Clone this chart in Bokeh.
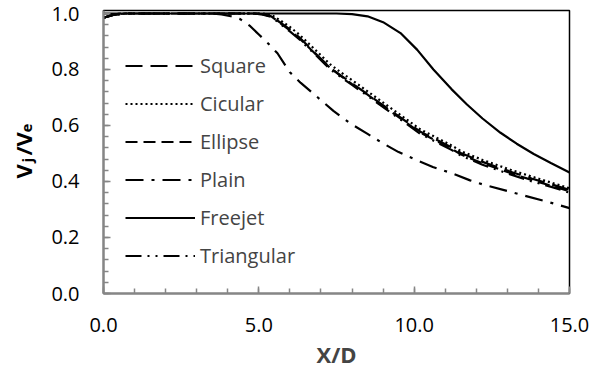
import math
from bokeh.plotting import figure
from bokeh.layouts import row
from bokeh.models import Range1d, NumeralTickFormatter, FixedTicker
from bokeh.core.properties import value
from bokeh.embed import file_html
from bokeh.resources import INLINE

# ---- data ----
x_cluster = [0, 0.3, 0.7, 1, 2, 3, 4, 4.8, 5.1, 5.4, 5.7, 6.0, 6.3, 6.8, 7.3, 7.6, 8.0,
             8.5, 8.9, 9.5, 10.2, 10.8, 11.2, 11.5, 12.2, 13.1, 13.8, 14.5, 15.0]
square = [0.985, 0.995, 1.0, 1.0, 1.0, 1.0, 1.0, 1.0, 0.998, 0.99, 0.967, 0.943, 0.915, 0.86,
          0.806, 0.782, 0.75, 0.712, 0.68, 0.633, 0.578, 0.545, 0.522, 0.502, 0.47, 0.435,
          0.41, 0.387, 0.37]
circular = [0.985, 0.995, 1.0, 1.0, 1.0, 1.0, 1.0, 1.0, 1.0, 0.995, 0.975, 0.952, 0.925, 0.872,
            0.818, 0.793, 0.762, 0.722, 0.69, 0.642, 0.586, 0.552, 0.529, 0.509, 0.477, 0.442,
            0.417, 0.393, 0.376]
ellipse = [0.985, 0.995, 1.0, 1.0, 1.0, 1.0, 1.0, 1.0, 0.998, 0.99, 0.965, 0.94, 0.912, 0.858,
           0.805, 0.78, 0.748, 0.71, 0.678, 0.63, 0.574, 0.54, 0.517, 0.497, 0.465, 0.43,
           0.405, 0.382, 0.365]
triangular = [0.985, 0.995, 1.0, 1.0, 1.0, 1.0, 1.0, 1.0, 0.997, 0.988, 0.962, 0.936, 0.908,
              0.855, 0.8, 0.776, 0.745, 0.706, 0.674, 0.626, 0.57, 0.536, 0.513, 0.493, 0.46,
              0.425, 0.4, 0.378, 0.36]

x_plain = [0, 0.5, 1, 2, 3, 3.5, 3.8, 4.1, 4.4, 4.7, 5.0, 5.3, 5.6, 6.0, 6.35, 6.9, 7.4, 7.95,
           8.5, 9.0, 9.5, 10.1, 10.6, 11.2, 11.8, 12.2, 13.3, 14.5, 15.0]
plain = [0.985, 1.0, 1.0, 1.0, 1.0, 1.0, 0.997, 0.99, 0.98, 0.957, 0.925, 0.893, 0.858, 0.79,
         0.752, 0.70, 0.652, 0.607, 0.57, 0.536, 0.505, 0.475, 0.452, 0.43, 0.404, 0.39,
         0.357, 0.321, 0.305]

x_free = [0, 2, 4, 6, 7.5, 8.0, 8.5, 9.0, 9.56, 10.1, 10.62, 11.2, 11.7, 12.2, 12.78, 13.3,
          13.85, 14.4, 15.0]
freejet = [1.0, 1.0, 1.0, 1.0, 1.0, 0.998, 0.99, 0.969, 0.93, 0.87, 0.80, 0.73, 0.675, 0.625,
           0.574, 0.535, 0.498, 0.466, 0.432]

x_ticks = [0, 5, 10, 15]
y_ticks = [0.0, 0.2, 0.4, 0.6, 0.8, 1.0]
y_label_parts = ["V", "j", "/V", "e"]

FONT = "Open Sans"
AX = "#868686"
H = 372
LW = 45
TOP = 10
BOT = 79

# ---- left strip holding the rotated y-axis title ----
lab = figure(width=LW, height=H, output_backend="svg", toolbar_location=None,
             x_range=Range1d(0, LW), y_range=Range1d(BOT, H - TOP),
             x_axis_type=None, y_axis_type=None,
             min_border_left=0, min_border_right=0, min_border_top=TOP, min_border_bottom=BOT)
lab.outline_line_color = None
lab.xgrid.visible = False
lab.ygrid.visible = False
# (anchor x, start y from top, size) for each piece
lab_pos = [(22, 178, "22px"), (26, 162, "15px"), (22, 155, "22px"), (26, 132, "15px")]
for t, (bx, sy, fs) in zip(y_label_parts, lab_pos):
    lab.text(x=[bx], y=[H - sy], text=[t], angle=math.pi / 2, text_font=value(FONT),
             text_font_style="bold", text_font_size=fs, text_baseline="alphabetic",
             text_align="left", text_color="black")

# ---- main plot ----
p = figure(width=608 - LW, height=H, output_backend="svg", toolbar_location=None,
           x_range=Range1d(0, 15), y_range=Range1d(0, 1.0107),
           min_border_left=103 - LW, min_border_right=39, min_border_top=TOP,
           min_border_bottom=BOT)
p.background_fill_color = "white"
p.border_fill_color = "white"
p.outline_line_color = "black"
p.outline_line_width = 1.5
p.xgrid.visible = False
p.ygrid.visible = False

W = 2.2
p.line(x_cluster, square, line_color="black", line_width=W, line_dash="17 8", legend_label="Square")
p.line(x_cluster, circular, line_color="black", line_width=W, line_dash="2 3", legend_label="Cicular")
p.line(x_cluster, ellipse, line_color="black", line_width=W, line_dash="12 6", legend_label="Ellipse")
p.line(x_plain, plain, line_color="black", line_width=W, line_dash="18 8 3 8", legend_label="Plain")
p.line(x_free, freejet, line_color="black", line_width=W, legend_label="Freejet")
p.line(x_cluster, triangular, line_color="black", line_width=W, line_dash="16 6 2 6 2 6",
       legend_label="Triangular")

for ax in (p.xaxis[0], p.yaxis[0]):
    ax.axis_line_color = AX
    ax.axis_line_width = 2
    ax.major_tick_line_color = AX
    ax.minor_tick_line_color = AX
    ax.major_tick_line_width = 1.5
    ax.minor_tick_line_width = 1.5
    ax.major_tick_in = 7
    ax.major_tick_out = 0
    ax.minor_tick_in = 5
    ax.minor_tick_out = 0
    ax.major_label_text_font = FONT
    ax.major_label_text_font_size = "20px"
    ax.major_label_text_color = "black"
    ax.formatter = NumeralTickFormatter(format="0.0")

p.xaxis.ticker = FixedTicker(ticks=x_ticks, minor_ticks=list(range(0, 16)))
p.yaxis.ticker = FixedTicker(ticks=y_ticks, minor_ticks=[i * 0.04 for i in range(26)])
p.xaxis.major_label_standoff = 24
p.yaxis.major_label_standoff = 24

p.xaxis.axis_label = "X/D"
p.xaxis.axis_label_text_font = FONT
p.xaxis.axis_label_text_font_style = "bold"
p.xaxis.axis_label_text_font_size = "22px"
p.xaxis.axis_label_standoff = 4

lg = p.legend[0]
lg.location = (22, 24)
lg.padding = 0
lg.margin = 0
lg.spacing = 11
lg.glyph_width = 70
lg.glyph_height = 21
lg.label_height = 21
lg.label_standoff = 5
lg.label_text_font = FONT
lg.label_text_font_size = "20px"
lg.border_line_color = None
lg.background_fill_alpha = 0

layout = row(lab, p, spacing=0)
open("out.html", "w").write(file_html(layout, INLINE))
